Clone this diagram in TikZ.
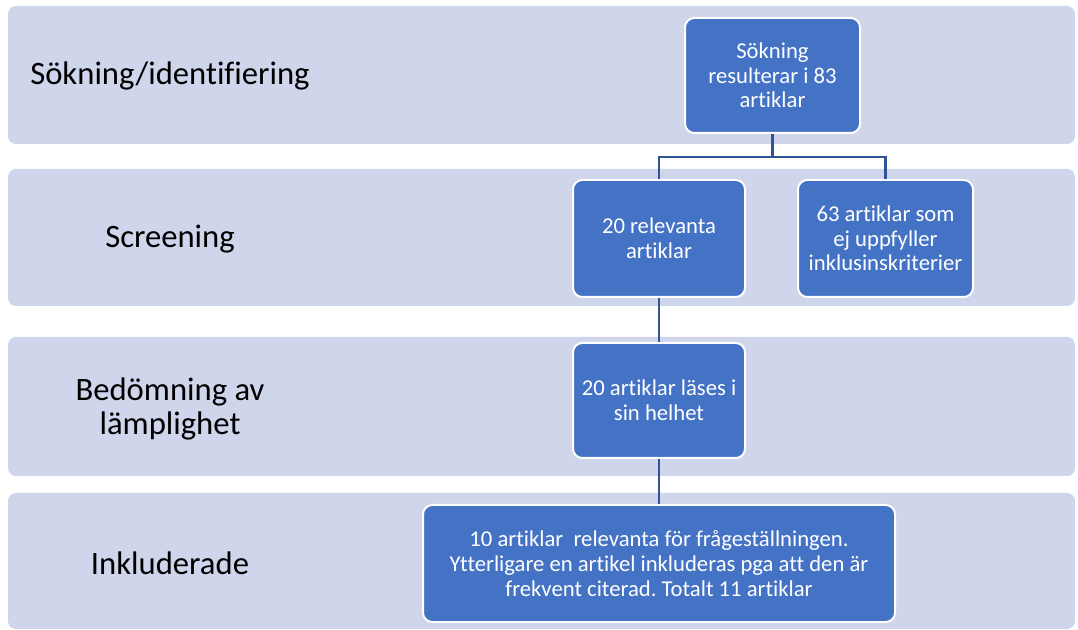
\documentclass[tikz,border=0pt]{standalone}
\usepackage{fontspec}
\setmainfont{Carlito}[Ligatures=NoCommon]
\usepackage{xcolor}
\usepackage{tikz}
\usetikzlibrary{positioning,calc}
\definecolor{bandcol}{HTML}{CFD5EA}
\definecolor{boxcol}{HTML}{4472C4}
\definecolor{linecol}{HTML}{2F5597}
\newcommand{\px}{0.75pt}
\frenchspacing

\begin{document}
\begin{tikzpicture}[x=0.75pt, y=-0.75pt,
  band/.style={fill=bandcol, rounded corners=6pt},
  phase/.style={align=center, text=black, font=\fontsize{24.5}{25}\selectfont},
  stepbox/.style={draw=white, line width=1.5pt, fill=boxcol, rounded corners=7pt, text=white, align=center, inner sep=2pt, font=\fontsize{17}{18.5}\selectfont},
  link/.style={draw=linecol, line width=2.2pt}]
  \useasboundingbox (0,0) rectangle (1078,630);

  % phase bands
  \fill[band] (8,6) rectangle (1075,144);
  \fill[band] (8,169) rectangle (1075,306);
  \fill[band] (8,337) rectangle (1075,476);
  \fill[band] (8,493) rectangle (1075,629);

  \node[phase] (identify) at (170,76) {Sökning/identifiering};
  \node[phase] (screen) at (170,239) {Screening};
  \node[phase] (assess) at (170,409) {Bedömning av\\lämplighet};
  \node[phase] (include) at (170,563) {Inkluderade};

  % flow boxes
  \node[stepbox, minimum width=175*\px, minimum height=115*\px] (search) at (772.5,75.5) {Sökning\\resulterar i 83\\artiklar};
  \node[stepbox, minimum width=172*\px, minimum height=117*\px] (relevant) at (659,238.5) {20 relevanta\\artiklar};
  \node[stepbox, minimum width=175*\px, minimum height=117*\px] (excluded) at (885.5,238.5) {63 artiklar som\\ej uppfyller\\inklusinskriterier};
  \node[stepbox, minimum width=172*\px, minimum height=115*\px] (fulltext) at (659,400.5) {20 artiklar läses i\\sin helhet};
  \node[stepbox, minimum width=472*\px, minimum height=117*\px] (final) at (659,563.5) {10 artiklar \ relevanta för frågeställningen.\\Ytterligare en artikel inkluderas pga att den är\\frekvent citerad. Totalt 11 artiklar};

  \coordinate (split) at ($(search.south)+(0,23)$);
  \draw[link] (search.south) -- (split) -| (relevant.north);
  \draw[link] (split) -| (excluded.north);
  \draw[link] (relevant.south) -- (fulltext.north);
  \draw[link] (fulltext.south) -- (final.north);
\end{tikzpicture}
\end{document}
